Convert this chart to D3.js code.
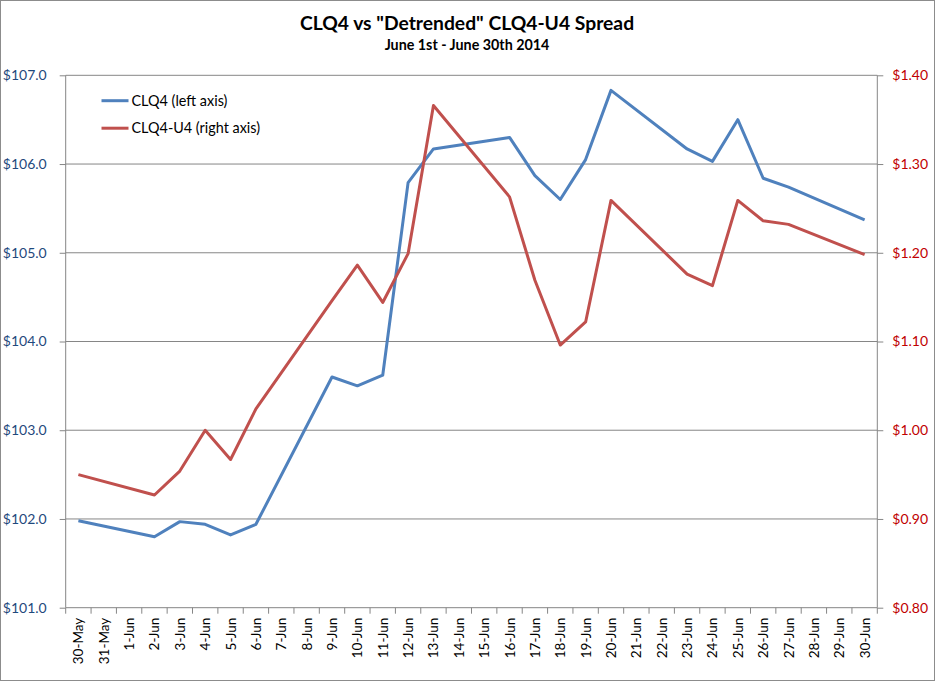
<!DOCTYPE html>
<html>
<head>
<title>CLQ4 vs Detrended CLQ4-U4 Spread</title>
<style>
body {
  margin: 0;
  padding: 0;
  background: #fff;
}
svg {
  display: block;
  font-family: Lato, "Open Sans", sans-serif;
}
</style>
<script src="https://d3js.org/d3.v7.min.js"></script>
</head>
<body>
<svg id="chart" width="935" height="681"></svg>

<script>
// categories (calendar days, weekends have no quote)
const dates = ["30-May", "31-May", "1-Jun", "2-Jun", "3-Jun", "4-Jun", "5-Jun", "6-Jun",
  "7-Jun", "8-Jun", "9-Jun", "10-Jun", "11-Jun", "12-Jun", "13-Jun", "14-Jun", "15-Jun",
  "16-Jun", "17-Jun", "18-Jun", "19-Jun", "20-Jun", "21-Jun", "22-Jun", "23-Jun", "24-Jun",
  "25-Jun", "26-Jun", "27-Jun", "28-Jun", "29-Jun", "30-Jun"];

const clq4 = [101.98, null, null, 101.80, 101.97, 101.94, 101.82, 101.94,
  null, null, 103.60, 103.50, 103.62, 105.79, 106.17, null, null,
  106.30, 105.87, 105.60, 106.05, 106.83, null, null, 106.17, 106.03,
  106.50, 105.84, 105.74, null, null, 105.37];

const spread = [0.950, null, null, 0.927, 0.954, 1.000, 0.967, 1.024,
  null, null, 1.146, 1.186, 1.144, 1.199, 1.366, null, null,
  1.263, 1.169, 1.096, 1.122, 1.259, null, null, 1.176, 1.163,
  1.259, 1.236, 1.232, null, null, 1.198];

const leftTicks = [101, 102, 103, 104, 105, 106, 107];
const rightTicks = [0.8, 0.9, 1.0, 1.1, 1.2, 1.3, 1.4];

const seriesNames = ["CLQ4 (left axis)", "CLQ4-U4 (right axis)"];
const seriesColors = ["#4f81bd", "#c0504d"];

const W = 935, H = 681;
const m = {left: 65.7, right: 877.3, top: 75.3, bottom: 607.7};

const svg = d3.select("#chart");

// outer border
svg.append("rect")
  .attr("x", 0.5).attr("y", 0.5)
  .attr("width", W - 1).attr("height", H - 1)
  .attr("fill", "#fff").attr("stroke", "#8c8c8c");

const x = d3.scaleBand()
  .domain(dates)
  .range([m.left, m.right]);

const yL = d3.scaleLinear().domain([101, 107]).range([m.bottom, m.top]);
const yR = d3.scaleLinear().domain([0.8, 1.4]).range([m.bottom, m.top]);

// gridlines
svg.append("g")
  .selectAll("line")
  .data(leftTicks.slice(1))
  .enter().append("line")
  .attr("x1", m.left).attr("x2", m.right)
  .attr("y1", d => yL(d)).attr("y2", d => yL(d))
  .attr("stroke", "#868686").attr("stroke-width", 1);

// left axis
const gL = svg.append("g")
  .attr("transform", `translate(${m.left},0)`)
  .call(d3.axisLeft(yL).tickValues(leftTicks).tickSize(6).tickPadding(13)
    .tickFormat(d => "$" + d3.format(".1f")(d)));
gL.select(".domain").attr("stroke", "#868686").attr("d", `M0,${m.top}V${m.bottom}`);
gL.selectAll(".tick line").attr("stroke", "#868686");
gL.selectAll("text")
  .attr("fill", "#1f497d")
  .attr("font-size", "14px")
  .attr("font-family", "Lato, sans-serif");

// right axis
const gR = svg.append("g")
  .attr("transform", `translate(${m.right},0)`)
  .call(d3.axisRight(yR).tickValues(rightTicks).tickSize(6).tickPadding(9)
    .tickFormat(d => "$" + d3.format(".2f")(d)));
gR.select(".domain").attr("stroke", "#868686").attr("d", `M0,${m.top}V${m.bottom}`);
gR.selectAll(".tick line").attr("stroke", "#868686");
gR.selectAll("text")
  .attr("fill", "#c00000")
  .attr("font-size", "14px")
  .attr("font-family", "Lato, sans-serif");

// bottom axis: ticks between categories
const gB = svg.append("g");
gB.append("line")
  .attr("x1", m.left).attr("x2", m.right)
  .attr("y1", m.bottom).attr("y2", m.bottom)
  .attr("stroke", "#868686");
gB.selectAll("line.tk")
  .data(dates.concat(["end"]))
  .enter().append("line")
  .attr("class", "tk")
  .attr("x1", (d, i) => m.left + i * x.bandwidth())
  .attr("x2", (d, i) => m.left + i * x.bandwidth())
  .attr("y1", m.bottom).attr("y2", m.bottom + 6)
  .attr("stroke", "#868686");
gB.selectAll("text")
  .data(dates)
  .enter().append("text")
  .attr("transform", d => `translate(${x(d) + x.bandwidth() / 2 + 5},${m.bottom + 10}) rotate(-90)`)
  .attr("text-anchor", "end")
  .attr("font-size", "13.5px")
  .attr("fill", "#000")
  .text(d => d);

// lines (gaps on weekends are bridged)
const lineL = d3.line()
  .x(d => x(d.date) + x.bandwidth() / 2)
  .y(d => yL(d.v));
const lineR = d3.line()
  .x(d => x(d.date) + x.bandwidth() / 2)
  .y(d => yR(d.v));

const clqData = dates.map((d, i) => ({date: d, v: clq4[i]})).filter(d => d.v != null);
const sprData = dates.map((d, i) => ({date: d, v: spread[i]})).filter(d => d.v != null);

svg.append("path")
  .datum(clqData)
  .attr("d", lineL)
  .attr("fill", "none")
  .attr("stroke", seriesColors[0])
  .attr("stroke-width", 3)
  .attr("stroke-linejoin", "round");

svg.append("path")
  .datum(sprData)
  .attr("d", lineR)
  .attr("fill", "none")
  .attr("stroke", seriesColors[1])
  .attr("stroke-width", 3)
  .attr("stroke-linejoin", "round");

// legend
const lg = svg.append("g");
seriesNames.forEach((name, i) => {
  const ly = 100.7 + i * 27.5;
  lg.append("line")
    .attr("x1", 101.5).attr("x2", 128.5)
    .attr("y1", ly).attr("y2", ly)
    .attr("stroke", seriesColors[i]).attr("stroke-width", 3);
  lg.append("text")
    .attr("x", 131.5).attr("y", ly + 5)
    .attr("font-size", "14.4px")
    .attr("fill", "#000")
    .text(name);
});

// titles
svg.append("text")
  .attr("x", 467).attr("y", 30)
  .attr("text-anchor", "middle")
  .attr("font-size", "19.3px")
  .attr("font-weight", "bold")
  .text('CLQ4 vs "Detrended" CLQ4-U4 Spread');

svg.append("text")
  .attr("x", 467).attr("y", 50)
  .attr("text-anchor", "middle")
  .attr("font-size", "14.3px")
  .attr("font-weight", "bold")
  .text("June 1st - June 30th 2014");
</script>
</body>
</html>
